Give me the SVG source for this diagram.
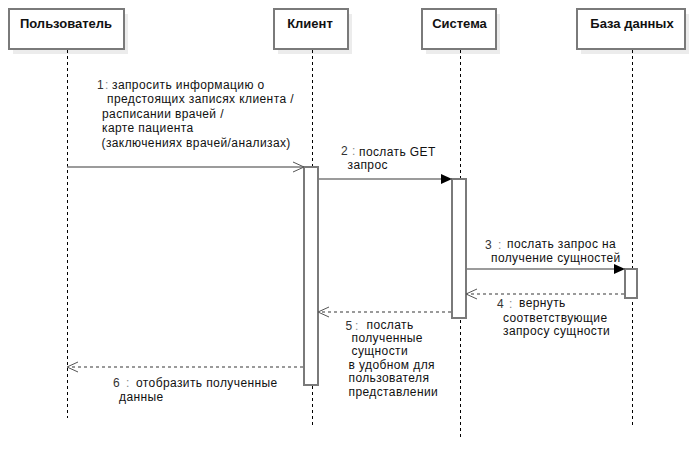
<svg xmlns="http://www.w3.org/2000/svg" width="694" height="452" viewBox="0 0 694 452">
<style>
.shadow{fill:#ececec;stroke:none}
.head{fill:#fff;stroke:#7a7a7a;stroke-width:2}
.htxt{font-family:"Liberation Sans",Arial,sans-serif;font-size:13px;font-weight:bold;fill:#111;text-anchor:middle}
.life{stroke:#000;stroke-width:1;stroke-dasharray:3,3;fill:none}
.act{fill:#fff;stroke:#7a7a7a;stroke-width:2}
.msg{stroke:#7a7a7a;stroke-width:1.5;fill:none}
.ret{stroke:#7a7a7a;stroke-width:1.5;fill:none;stroke-dasharray:3,3}
.open{stroke:#555;stroke-width:1;fill:none}
.fill{fill:#000;stroke:none}
.t{font-family:"Liberation Sans",Arial,sans-serif;font-size:12px;letter-spacing:0.4px;fill:#111}
.n{font-family:"Liberation Sans",Arial,sans-serif;font-size:12px;fill:#333}
.c{fill:#888}
</style>
<rect width="694" height="452" fill="#fff"/>
<g id="node-user">
<rect class="shadow" x="13" y="14" width="115" height="40"/>
<rect class="head" x="9" y="9" width="115" height="40"/>
<text class="htxt" x="66" y="28">Пользователь</text>
<line class="life" x1="67.5" y1="50" x2="67.5" y2="418"/>
</g>
<g id="node-client">
<rect class="shadow" x="278" y="14" width="74" height="40"/>
<rect class="head" x="274" y="9" width="74" height="40"/>
<text class="htxt" x="310" y="28">Клиент</text>
<line class="life" x1="312.5" y1="50" x2="312.5" y2="428"/>
<rect class="act" x="304" y="167" width="14" height="218"/>
</g>
<g id="node-system">
<rect class="shadow" x="426" y="14" width="74" height="40"/>
<rect class="head" x="422" y="9" width="74" height="40"/>
<text class="htxt" x="459.5" y="28">Система</text>
<line class="life" x1="460.5" y1="50" x2="460.5" y2="440"/>
<rect class="act" x="452" y="179" width="14" height="139"/>
</g>
<g id="node-db">
<rect class="shadow" x="581" y="14" width="108" height="40"/>
<rect class="head" x="577" y="9" width="108" height="40"/>
<text class="htxt" x="632" y="28">База данных</text>
<line class="life" x1="632.5" y1="50" x2="632.5" y2="428"/>
<rect class="act" x="625" y="269" width="12" height="29"/>
</g>
<g id="connectors">
<line class="msg" x1="67" y1="167" x2="303" y2="167"/>
<polyline class="open" points="293,162 304,167 293,172"/>
<line class="msg" x1="318" y1="179" x2="442" y2="179"/>
<polygon class="fill" points="441,174 452,179 441,184"/>
<line class="msg" x1="466" y1="269" x2="615" y2="269"/>
<polygon class="fill" points="614,264 625,269 614,274"/>
<line class="ret" x1="624" y1="294" x2="467" y2="294"/>
<polyline class="open" points="477,289 466,294 477,299"/>
<line class="ret" x1="451" y1="312" x2="319" y2="312"/>
<polyline class="open" points="329,307 318,312 329,317"/>
<line class="ret" x1="303" y1="367" x2="68" y2="367"/>
<polyline class="open" points="78,362 67,367 78,372"/>
</g>
<g id="labels">
<text class="n" x="97" y="88.5">1<tspan class="c" x="105">:</tspan></text>
<text class="t" x="112" y="88.5">запросить информацию о</text>
<text class="t" x="107" y="103">предстоящих записях клиента /</text>
<text class="t" x="102" y="117.5">расписании врачей /</text>
<text class="t" x="102" y="132">карте пациента</text>
<text class="t" x="101.5" y="146.5">(заключениях врачей/анализах)</text>
<text class="n" x="341" y="155">2<tspan class="c" x="352">:</tspan></text>
<text class="t" x="359" y="156">послать GET</text>
<text class="t" x="347.5" y="169">запрос</text>
<text class="n" x="485" y="248.5">3<tspan class="c" x="498">:</tspan></text>
<text class="t" x="507" y="248">послать запрос на</text>
<text class="t" x="491" y="262">получение сущностей</text>
<text class="n" x="497" y="308">4<tspan class="c" x="509">:</tspan></text>
<text class="t" x="519" y="307">вернуть</text>
<text class="t" x="503" y="321.5">соответствующие</text>
<text class="t" x="503" y="334.5">запросу сущности</text>
<text class="n" x="345.5" y="329.5">5<tspan class="c" x="355">:</tspan></text>
<text class="t" x="366.5" y="329">послать</text>
<text class="t" x="351.5" y="342">полученные</text>
<text class="t" x="351.5" y="355">сущности</text>
<text class="t" x="348.5" y="368.5">в удобном для</text>
<text class="t" x="348.5" y="382">пользователя</text>
<text class="t" x="348.5" y="395.5">представлении</text>
<text class="n" x="113" y="387">6<tspan class="c" x="126">:</tspan></text>
<text class="t" x="136" y="387">отобразить полученные</text>
<text class="t" x="119" y="400.5">данные</text>
</g>
</svg>
